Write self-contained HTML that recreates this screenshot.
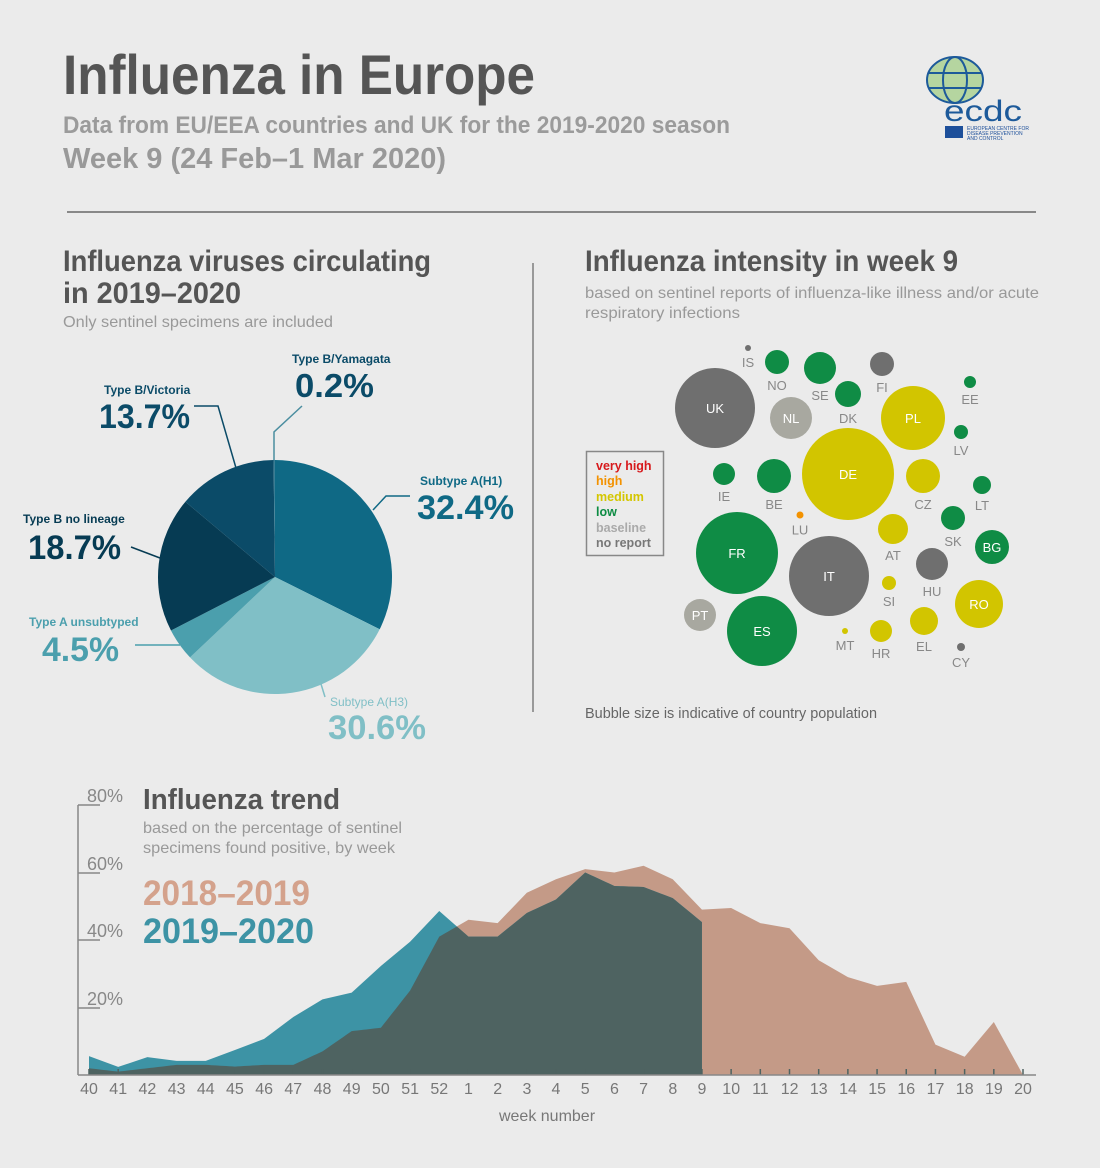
<!DOCTYPE html>
<html><head><meta charset="utf-8"><style>
html,body{margin:0;padding:0;background:#ebebeb;}
svg{display:block;font-family:"Liberation Sans",sans-serif;}
</style></head><body>
<svg id="s" width="1100" height="1168" viewBox="0 0 1100 1168" xmlns="http://www.w3.org/2000/svg">
<rect width="1100" height="1168" fill="#ebebeb"/>
<!-- header -->
<text x="63" y="94" font-size="56" font-weight="bold" fill="#555" textLength="472" lengthAdjust="spacingAndGlyphs">Influenza in Europe</text>
<text x="63" y="133" font-size="24" font-weight="bold" fill="#9b9b9b" textLength="667" lengthAdjust="spacingAndGlyphs">Data from EU/EEA countries and UK for the 2019-2020 season</text>
<text x="63" y="168" font-size="29" font-weight="bold" fill="#999" textLength="383" lengthAdjust="spacingAndGlyphs">Week 9 (24 Feb–1 Mar 2020)</text>
<!-- logo -->
<g>
<ellipse cx="955" cy="80" rx="28" ry="23" fill="#a8d08d" opacity="0.8"/>
<g fill="none" stroke="#1d5a9a" stroke-width="2">
<ellipse cx="955" cy="80" rx="28" ry="23"/>
<ellipse cx="955" cy="80" rx="12" ry="23"/>
<line x1="928" y1="73" x2="982" y2="73"/><line x1="929" y1="88" x2="981" y2="88"/>
</g>
<text x="944" y="121" font-size="30" fill="#1d5a9a" textLength="78" lengthAdjust="spacingAndGlyphs">ecdc</text>
<rect x="945" y="126" width="18" height="12" fill="#1d4f9a"/>
<text x="967" y="130" font-size="5" fill="#1d4f9a">EUROPEAN CENTRE FOR</text>
<text x="967" y="135" font-size="5" fill="#1d4f9a">DISEASE PREVENTION</text>
<text x="967" y="140" font-size="5" fill="#1d4f9a">AND CONTROL</text>
</g>
<line x1="67" y1="212" x2="1036" y2="212" stroke="#888" stroke-width="2"/>
<line x1="533" y1="263" x2="533" y2="712" stroke="#999" stroke-width="2"/>

<!-- left section -->
<text x="63" y="271" font-size="30" font-weight="bold" fill="#555" textLength="368" lengthAdjust="spacingAndGlyphs">Influenza viruses circulating</text>
<text x="63" y="303" font-size="30" font-weight="bold" fill="#555" textLength="178" lengthAdjust="spacingAndGlyphs">in 2019–2020</text>
<text x="63" y="327" font-size="16" fill="#999" textLength="270" lengthAdjust="spacingAndGlyphs">Only sentinel specimens are included</text>
<g id="pie"></g>
<g fill="none" stroke-width="1.5">
<polyline points="274,460 274,432 302,406" stroke="#4b8ea0"/>
<polyline points="194,406 218,406 236,468" stroke="#0b4b68"/>
<polyline points="373,510 386,496 410,496" stroke="#0f6985"/>
<polyline points="131,547 160,558" stroke="#063b53"/>
<polyline points="135,645 180,645" stroke="#4b9fad"/>
<polyline points="321,684 325,697" stroke="#80bfc6"/>
</g>
<g font-weight="bold">
<text x="292" y="363" font-size="12" fill="#0b4b68">Type B/Yamagata</text>
<text x="295" y="397" font-size="33" fill="#0b4b68" textLength="79" lengthAdjust="spacingAndGlyphs">0.2%</text>
<text x="104" y="394" font-size="12" fill="#0b4b68">Type B/Victoria</text>
<text x="99" y="428" font-size="34" fill="#0b4b68" textLength="91" lengthAdjust="spacingAndGlyphs">13.7%</text>
<text x="420" y="485" font-size="12" fill="#0f6985">Subtype A(H1)</text>
<text x="417" y="519" font-size="34" fill="#0f6985" textLength="97" lengthAdjust="spacingAndGlyphs">32.4%</text>
<text x="23" y="523" font-size="12" fill="#063b53">Type B no lineage</text>
<text x="28" y="559" font-size="34" fill="#063b53" textLength="93" lengthAdjust="spacingAndGlyphs">18.7%</text>
<text x="29" y="626" font-size="12" fill="#4b9fad">Type A unsubtyped</text>
<text x="42" y="661" font-size="34" fill="#4b9fad" textLength="77" lengthAdjust="spacingAndGlyphs">4.5%</text>
<text x="330" y="706" font-size="12" fill="#80bfc6" font-weight="normal">Subtype A(H3)</text>
<text x="328" y="739" font-size="34" fill="#80bfc6" textLength="98" lengthAdjust="spacingAndGlyphs">30.6%</text>
</g>

<!-- right section -->
<text x="585" y="271" font-size="30" font-weight="bold" fill="#555" textLength="373" lengthAdjust="spacingAndGlyphs">Influenza intensity in week 9</text>
<text x="585" y="298" font-size="16" fill="#999" textLength="454" lengthAdjust="spacingAndGlyphs">based on sentinel reports of influenza-like illness and/or acute</text>
<text x="585" y="318" font-size="16" fill="#999" textLength="155" lengthAdjust="spacingAndGlyphs">respiratory infections</text>
<rect x="586.5" y="451.5" width="77" height="104" fill="none" stroke="#888" stroke-width="1.5"/>
<g font-size="12.5" font-weight="bold">
<text x="596" y="470" fill="#d7191c">very high</text>
<text x="596" y="485" fill="#f39200">high</text>
<text x="596" y="501" fill="#d4c600">medium</text>
<text x="596" y="516" fill="#0d8c43">low</text>
<text x="596" y="532" fill="#aaa">baseline</text>
<text x="596" y="547" fill="#777">no report</text>
</g>
<g id="bub"></g>
<text x="585" y="718" font-size="15" fill="#666" textLength="292" lengthAdjust="spacingAndGlyphs">Bubble size is indicative of country population</text>

<!-- trend -->
<g id="trend"></g>
<g stroke="#888" stroke-width="1.5" fill="none">
<line x1="78" y1="805" x2="78" y2="1075"/>
<line x1="78" y1="805" x2="100" y2="805"/>
<line x1="78" y1="873" x2="100" y2="873"/>
<line x1="78" y1="940" x2="100" y2="940"/>
<line x1="78" y1="1008" x2="100" y2="1008"/>
<line x1="78" y1="1075" x2="1036" y2="1075"/>
</g>
<g font-size="18" fill="#888">
<text x="87" y="802">80%</text><text x="87" y="870">60%</text><text x="87" y="937">40%</text><text x="87" y="1005">20%</text>
</g>
<text x="143" y="809" font-size="29" font-weight="bold" fill="#555" textLength="197" lengthAdjust="spacingAndGlyphs">Influenza trend</text>
<text x="143" y="833" font-size="16" fill="#999" textLength="259" lengthAdjust="spacingAndGlyphs">based on the percentage of sentinel</text>
<text x="143" y="853" font-size="16" fill="#999" textLength="252" lengthAdjust="spacingAndGlyphs">specimens found positive, by week</text>
<text x="143" y="905" font-size="35" font-weight="bold" fill="#d4a28c" textLength="167" lengthAdjust="spacingAndGlyphs">2018–2019</text>
<text x="143" y="943" font-size="35" font-weight="bold" fill="#3d93a5" textLength="171" lengthAdjust="spacingAndGlyphs">2019–2020</text>
<g id="xl" font-size="16" fill="#777" text-anchor="middle">
<text x="89.0" y="1094">40</text><text x="118.2" y="1094">41</text><text x="147.4" y="1094">42</text><text x="176.6" y="1094">43</text><text x="205.8" y="1094">44</text><text x="234.9" y="1094">45</text><text x="264.1" y="1094">46</text><text x="293.3" y="1094">47</text><text x="322.5" y="1094">48</text><text x="351.7" y="1094">49</text><text x="380.9" y="1094">50</text><text x="410.1" y="1094">51</text><text x="439.3" y="1094">52</text><text x="468.5" y="1094">1</text><text x="497.7" y="1094">2</text><text x="526.9" y="1094">3</text><text x="556.0" y="1094">4</text><text x="585.2" y="1094">5</text><text x="614.4" y="1094">6</text><text x="643.6" y="1094">7</text><text x="672.8" y="1094">8</text><text x="702.0" y="1094">9</text><text x="731.2" y="1094">10</text><text x="760.4" y="1094">11</text><text x="789.6" y="1094">12</text><text x="818.8" y="1094">13</text><text x="848.0" y="1094">14</text><text x="877.1" y="1094">15</text><text x="906.3" y="1094">16</text><text x="935.5" y="1094">17</text><text x="964.7" y="1094">18</text><text x="993.9" y="1094">19</text><text x="1023.0" y="1094">20</text>
</g>
<text x="547" y="1121" font-size="16" fill="#777" text-anchor="middle">week number</text>
</svg>
<script>
var NS="http://www.w3.org/2000/svg";
function el(p,t,a){var e=document.createElementNS(NS,t);for(var k in a)e.setAttribute(k,a[k]);p.appendChild(e);return e;}
// pie
var pie=document.getElementById('pie'),cx=275,cy=577,r=117;
var sl=[[32.4,'#0f6985'],[30.6,'#80bfc6'],[4.5,'#4b9fad'],[18.7,'#063b53'],[13.7,'#0b4b68'],[0.2,'#3a7e95']];
var tot=0;sl.forEach(function(s){tot+=s[0];});
var a0=0;
sl.forEach(function(s){var a1=a0+s[0]/tot*2*Math.PI;
var x0=cx+r*Math.sin(a0),y0=cy-r*Math.cos(a0),x1=cx+r*Math.sin(a1),y1=cy-r*Math.cos(a1);
el(pie,'path',{d:'M'+cx+','+cy+'L'+x0+','+y0+'A'+r+','+r+' 0 '+((a1-a0)>Math.PI?1:0)+' 1 '+x1+','+y1+'Z',fill:s[1]});a0=a1;});
// bubbles
var G='#0f8c45',Y='#d2c500',D='#6f6f6f',L='#a8a8a0',O='#f39200';
var b=[['IS',748,348,3,D,0],['NO',777,362,12,G,0],['SE',820,368,16,G,0],['FI',882,364,12,D,0],['DK',848,394,13,G,0],['EE',970,382,6,G,0],
['UK',715,408,40,D,1],['NL',791,418,21,L,1],['PL',913,418,32,Y,1],['LV',961,432,7,G,0],['DE',848,474,46,Y,1],['CZ',923,476,17,Y,0],
['IE',724,474,11,G,0],['BE',774,476,17,G,0],['LT',982,485,9,G,0],['LU',800,515,3.5,O,0],['SK',953,518,12,G,0],['AT',893,529,15,Y,0],
['BG',992,547,17,G,1],['FR',737,553,41,G,1],['IT',829,576,40,D,1],['HU',932,564,16,D,0],['SI',889,583,7,Y,0],['RO',979,604,24,Y,1],
['PT',700,615,16,L,1],['ES',762,631,35,G,1],['MT',845,631,3,Y,0],['HR',881,631,11,Y,0],['EL',924,621,14,Y,0],['CY',961,647,4,D,0]];
var bg=document.getElementById('bub');
b.forEach(function(c){el(bg,'circle',{cx:c[1],cy:c[2],r:c[3],fill:c[4]});
var t=el(bg,'text',{x:c[1],'text-anchor':'middle','font-size':13});
if(c[5]){t.setAttribute('y',c[2]+5);t.setAttribute('fill','#fff');}else{t.setAttribute('y',c[2]+c[3]+16);t.setAttribute('fill','#888');}
t.textContent=c[0];});
// trend
var tan=[2,1,2,3,3,2.5,3,3,7,13,14,25,41,46,45,54,58,61,60,62,58,49,49.5,45,43.5,34,29,26.4,27.6,9,5.4,15.7,0];
var teal=[5.6,2.4,5.3,4.2,4.2,7.4,10.7,17.2,22.4,24.4,32.3,39.5,48.6,41,41,48,52,60,56,55.7,52.4,45.3];
var tr=document.getElementById('trend');
function X(i){return 89+i*(1023-89)/32;}function Yp(p){return 1075-p*3.375;}
function poly(arr,col){var d='M'+X(0)+',1075';arr.forEach(function(p,i){d+='L'+X(i)+','+Yp(p);});d+='L'+X(arr.length-1)+',1075Z';el(tr,'path',{d:d,fill:col});}
poly(tan,'#c49a87');poly(teal,'#3d93a5');
// dark overlap (min), sampled finely
var d='M'+X(0)+',1075';
for(var i=0;i<teal.length-1;i++){for(var k=0;k<=10;k++){var f=k/10;var a=tan[i]+(tan[i+1]-tan[i])*f,c=teal[i]+(teal[i+1]-teal[i])*f;d+='L'+(X(i)+f*(X(i+1)-X(i)))+','+Yp(Math.min(a,c));}}
d+='L'+X(teal.length-1)+',1075Z';el(tr,'path',{d:d,fill:'#4e6361'});
for(var i=0;i<33;i++)el(tr,'line',{x1:X(i),y1:1075,x2:X(i),y2:1069,stroke:'#4e6361','stroke-width':1.5});
</script>
</body></html>
